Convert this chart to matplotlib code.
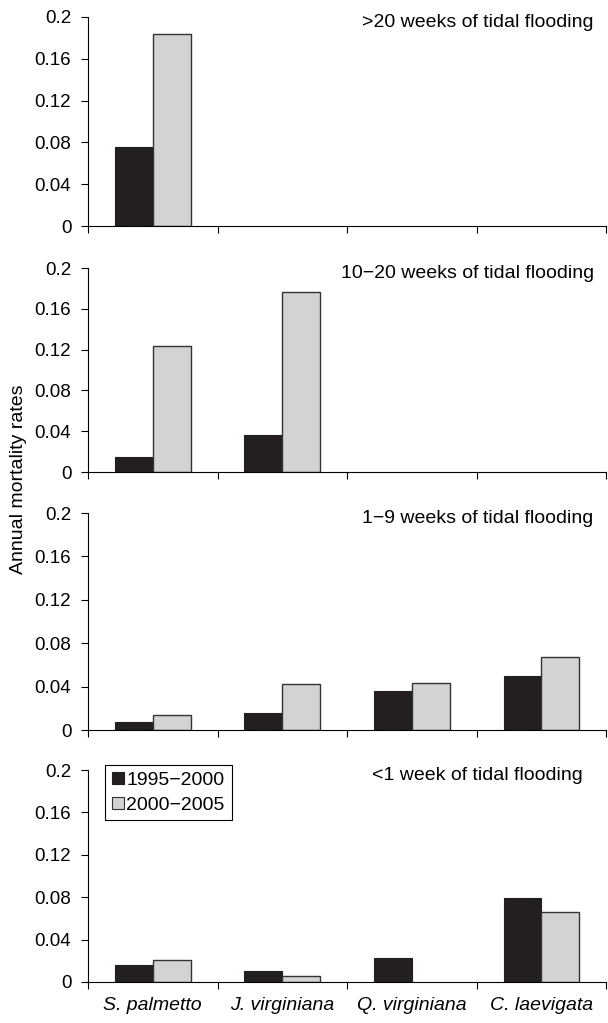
import numpy as np
import matplotlib
matplotlib.use("Agg")
import matplotlib.pyplot as plt
from matplotlib.patches import Patch

plt.rcParams['font.family'] = ['Liberation Sans', 'DejaVu Sans']

species = ['S. palmetto', 'J. virginiana', 'Q. virginiana', 'C. laevigata']
panel_titles = ['>20 weeks of tidal flooding', '10\u221220 weeks of tidal flooding',
                '1\u22129 weeks of tidal flooding', '<1 week of tidal flooding']
series_names = ['1995\u22122000', '2000\u22122005']

# None = no bar
rates_1995_2000 = [
    [0.076, None, None, None],
    [0.0145, 0.036, None, None],
    [0.007, 0.016, 0.0356, 0.050],
    [0.016, 0.0102, 0.0223, 0.0795],
]
rates_2000_2005 = [
    [0.184, None, None, None],
    [0.1234, 0.1764, None, None],
    [0.0142, 0.042, 0.043, 0.0674],
    [0.0211, 0.0057, 0.0, 0.0663],
]
yticks = [0, 0.04, 0.08, 0.12, 0.16, 0.2]
ytick_labels = ['0', '0.04', '0.08', '0.12', '0.16', '0.2']

black = '#231f20'
grey = '#d1d3d4'

fig = plt.figure(figsize=(6.08, 10.23), dpi=100)
# panel extents in figure fraction (bottom, top)
extents = [(0.779, 0.9834), (0.5386, 0.738), (0.2864, 0.4985), (0.0401, 0.2473)]
title_x = [0.975, 0.977, 0.975, 0.955]
left, right = 0.1447, 0.997
w = 0.292
centers = np.arange(len(species)) + 0.5

for i, (b, t) in enumerate(extents):
    ax = fig.add_axes([left, b, right - left, t - b])
    for j, c in enumerate(centers):
        v1 = rates_1995_2000[i][j]
        v2 = rates_2000_2005[i][j]
        if v1 is not None:
            ax.bar(c - w / 2, v1, width=w, color=black, edgecolor=black, linewidth=0.8)
        if v2 is not None and v2 > 0:
            ax.bar(c + w / 2, v2, width=w, color=grey, edgecolor='#333333', linewidth=1.0)
    ax.set_xlim(0, 4)
    ax.set_ylim(0, 0.2)
    ax.spines['top'].set_visible(False)
    ax.spines['right'].set_visible(False)
    ax.spines['left'].set_linewidth(0.8)
    ax.spines['bottom'].set_linewidth(0.8)
    ax.set_yticks(yticks)
    ax.set_yticklabels(ytick_labels)
    ax.set_xticks([0, 1, 2, 3, 4])
    ax.set_xticklabels([])
    ax.tick_params(axis='y', direction='out', length=5, width=0.8, labelsize=13.5, pad=7)
    ax.tick_params(axis='x', direction='out', length=5, width=0.8)
    ax.text(title_x[i], 1.015, panel_titles[i], transform=ax.transAxes,
            ha='right', va='top', fontsize=14)
    if i == 3:
        ax.set_xticks(centers, minor=True)
        ax.set_xticklabels(species, minor=True, fontstyle='italic', fontsize=14)
        ax.tick_params(axis='x', which='minor', length=0, pad=11)
        handles = [Patch(facecolor=black, edgecolor=black, linewidth=0.8),
                   Patch(facecolor=grey, edgecolor='#333333', linewidth=0.8)]
        leg = ax.legend(handles, series_names, loc='upper left',
                        bbox_to_anchor=(0.033, 1.024), fontsize=14,
                        handlelength=0.6, handleheight=0.6, handletextpad=0.15,
                        borderpad=0.35, labelspacing=0.4, fancybox=False,
                        framealpha=1, edgecolor='black', borderaxespad=0)
        leg.get_frame().set_linewidth(0.8)

fig.text(0.030, 0.532, 'Annual mortality rates', rotation=90, ha='center',
         va='center', fontsize=14)

fig.savefig('out.png', dpi=100)
